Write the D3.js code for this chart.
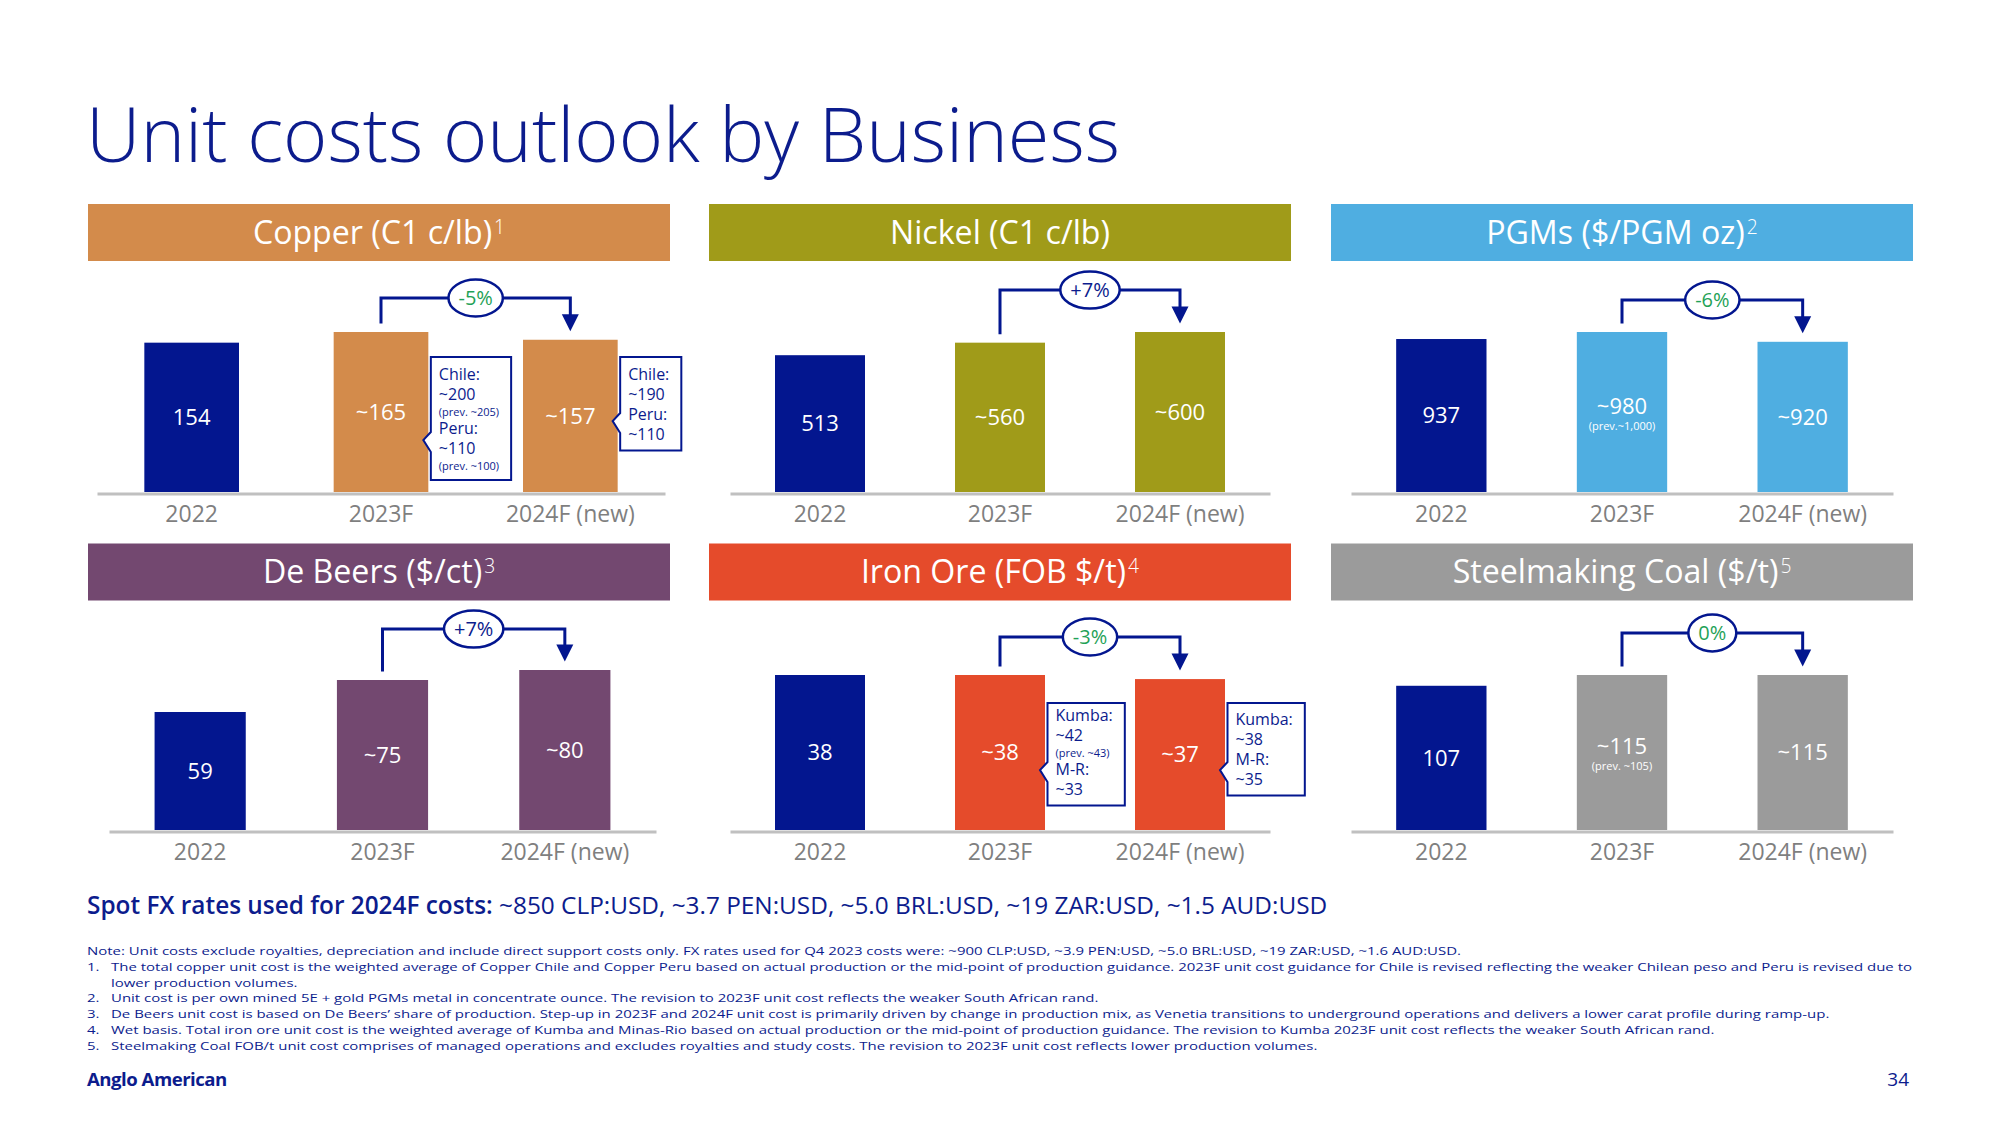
<!DOCTYPE html>
<html><head><meta charset="utf-8">
<script src="https://cdn.jsdelivr.net/npm/d3@7"></script>
<style>
body{margin:0;background:#fff;}
svg{display:block;}
text{font-family:'Open Sans', Lato, sans-serif;}
</style>
</head><body>
<svg id="chart" width="2000" height="1125"></svg>
<script>
// ---------------- DATA ----------------
const titleText = "Unit costs outlook by Business";
const categories = ["2022", "2023F", "2024F (new)"];
const panelTitles = ["Copper (C1 c/lb)", "Nickel (C1 c/lb)", "PGMs ($/PGM oz)", "De Beers ($/ct)", "Iron Ore (FOB $/t)", "Steelmaking Coal ($/t)"];
const panelFootnotes = ["1", "", "2", "3", "4", "5"];

const copperValues = [154, 165, 157];
const nickelValues = [513, 560, 600];
const pgmValues = [937, 980, 920];
const deBeersValues = [59, 75, 80];
const ironOreValues = [38, 38, 37];
const coalValues = [107, 115, 115];

const copperLabels = ["154", "~165", "~157"];
const nickelLabels = ["513", "~560", "~600"];
const pgmLabels = ["937", "~980", "~920"];
const deBeersLabels = ["59", "~75", "~80"];
const ironOreLabels = ["38", "~38", "~37"];
const coalLabels = ["107", "~115", "~115"];

const pgmPrevLabels = ["", "(prev.~1,000)", ""];
const coalPrevLabels = ["", "(prev. ~105)", ""];

const changeLabels = ["-5%", "+7%", "-6%", "+7%", "-3%", "0%"];

const copperCallout2023 = ["Chile:", "~200", "(prev. ~205)", "Peru:", "~110", "(prev. ~100)"];
const copperCallout2024 = ["Chile:", "~190", "Peru:", "~110"];
const ironCallout2023 = ["Kumba:", "~42", "(prev. ~43)", "M-R:", "~33"];
const ironCallout2024 = ["Kumba:", "~38", "M-R:", "~35"];

const fxBold = "Spot FX rates used for 2024F costs:";
const fxRest = " ~850 CLP:USD, ~3.7 PEN:USD, ~5.0 BRL:USD, ~19 ZAR:USD, ~1.5 AUD:USD";

const noteLead = "Note: Unit costs exclude royalties, depreciation and include direct support costs only. FX rates used for Q4 2023 costs were: ~900 CLP:USD, ~3.9 PEN:USD, ~5.0 BRL:USD, ~19 ZAR:USD, ~1.6 AUD:USD.";
const noteNumbers = ["1.", "", "2.", "3.", "4.", "5."];
const noteLines = [
  "The total copper unit cost is the weighted average of Copper Chile and Copper Peru based on actual production or the mid-point of production guidance. 2023F unit cost guidance for Chile is revised reflecting the weaker Chilean peso and Peru is revised due to",
  "lower production volumes.",
  "Unit cost is per own mined 5E + gold PGMs metal in concentrate ounce. The revision to 2023F unit cost reflects the weaker South African rand.",
  "De Beers unit cost is based on De Beers\u2019 share of production. Step-up in 2023F and 2024F unit cost is primarily driven by change in production mix, as Venetia transitions to underground operations and delivers a lower carat profile during ramp-up.",
  "Wet basis. Total iron ore unit cost is the weighted average of Kumba and Minas-Rio based on actual production or the mid-point of production guidance. The revision to Kumba 2023F unit cost reflects the weaker South African rand.",
  "Steelmaking Coal FOB/t unit cost comprises of managed operations and excludes royalties and study costs. The revision to 2023F unit cost reflects lower production volumes."
];
const brandText = "Anglo American";
const pageNumber = "34";

// ---------------- STYLE / LAYOUT ----------------
const NAVY = "#03168f";
const TEXT_NAVY = "#0c1c8d";
const GREEN = "#1fa257";
const AXIS_GRAY = "#c0c0c0";
const LABEL_GRAY = "#7f7f7f";

const panelValues = [copperValues, nickelValues, pgmValues, deBeersValues, ironOreValues, coalValues];
const panelLabels = [copperLabels, nickelLabels, pgmLabels, deBeersLabels, ironOreLabels, coalLabels];
const panelPrev = [null, null, pgmPrevLabels, null, null, coalPrevLabels];

const colLeft = [88, 709, 1331];
const headerW = 582;
const headerH = 57;
const headerTop = [204, 543.5];
const rowBase = [492, 830];

const panelLayout = [
  {col: 0, row: 0, color: "#d38b4b", axis: [9, 577], maxH: 160, rise: 34},
  {col: 1, row: 0, color: "#a09b19", axis: [21, 561], maxH: 160, rise: 42},
  {col: 2, row: 0, color: "#4faee1", axis: [20, 562], maxH: 160, rise: 32},
  {col: 0, row: 1, color: "#734870", axis: [21, 568], maxH: 160, rise: 41},
  {col: 1, row: 1, color: "#e54b2b", axis: [21, 561], maxH: 155, rise: 38},
  {col: 2, row: 1, color: "#9b9b9b", axis: [20, 562], maxH: 155, rise: 42}
];

const calloutLayout = [
  {panel: 0, bar: 1, lines: copperCallout2023, top: 135, tip: 52, first: 23},
  {panel: 0, bar: 2, lines: copperCallout2024, top: 135, tip: 71, first: 23},
  {panel: 4, bar: 1, lines: ironCallout2023, top: 127, tip: 60, first: 18},
  {panel: 4, bar: 2, lines: ironCallout2024, top: 127, tip: 60, first: 22}
];

const svg = d3.select("#chart");
svg.append("rect").attr("width", 2000).attr("height", 1125).attr("fill", "#ffffff");

function fitWidth(sel, target) {
  const w = sel.node().getComputedTextLength();
  const fs = parseFloat(sel.attr("font-size"));
  const nfs = fs * target / w;
  sel.attr("font-size", nfs);
  return nfs;
}

// ---------------- TITLE ----------------
const title = svg.append("text")
  .attr("x", 86).attr("y", 161.5)
  .attr("font-size", 72).attr("font-weight", 300)
  .attr("fill", TEXT_NAVY).text(titleText);
fitWidth(title, 1034);

// header font size from reference width of the Nickel header
const probe = svg.append("text").attr("font-size", 28).attr("font-weight", 500).text(panelTitles[1]);
const headerFS = fitWidth(probe, 220);
probe.remove();

const scales = [];

panelLayout.forEach((L, i) => {
  const hl = colLeft[L.col];
  const base = rowBase[L.row];
  const values = panelValues[i];
  const g = svg.append("g");

  // header
  const ht = headerTop[L.row];
  g.append("rect").attr("x", hl).attr("y", ht).attr("width", headerW).attr("height", headerH).attr("fill", L.color);
  const hBase = ht + headerH / 2 + headerFS * 0.714 / 2;
  const mainT = g.append("text").attr("y", hBase).attr("font-size", headerFS).attr("font-weight", 500)
    .attr("fill", "#ffffff").text(panelTitles[i]);
  const mw = mainT.node().getComputedTextLength();
  let sw = 0, supT = null;
  if (panelFootnotes[i]) {
    supT = g.append("text").attr("y", hBase - 10).attr("font-size", headerFS * 0.6).attr("font-weight", 300)
      .attr("fill", "#ffffff").text(panelFootnotes[i]);
    sw = supT.node().getComputedTextLength() + 2;
  }
  const startX = hl + headerW / 2 - (mw + sw) / 2;
  mainT.attr("x", startX);
  if (supT) supT.attr("x", startX + mw + 2);

  // scales
  const x = d3.scaleBand().domain(categories).range([hl + L.axis[0], hl + L.axis[1]])
    .paddingInner(0.5).paddingOuter(0.25);
  const y = d3.scaleLinear().domain([0, d3.max(values)]).range([base, base - L.maxH]);
  scales.push({x, y, base});

  // bars
  g.selectAll("rect.bar").data(values).join("rect").attr("class", "bar")
    .attr("x", (d, j) => x(categories[j]))
    .attr("y", d => y(d))
    .attr("width", x.bandwidth())
    .attr("height", d => base - y(d))
    .attr("fill", (d, j) => j === 0 ? NAVY : L.color);

  // axis
  const axisG = g.append("g").attr("transform", `translate(0,${base + 1.5})`)
    .call(d3.axisBottom(x).tickSize(0).tickSizeOuter(0).tickPadding(12.5));
  axisG.select(".domain").attr("stroke", AXIS_GRAY).attr("stroke-width", 3);
  axisG.selectAll(".tick line").remove();
  axisG.selectAll(".tick text").attr("font-size", 23).attr("fill", LABEL_GRAY)
    .attr("font-family", "'Open Sans', Lato, sans-serif");

  // value labels
  const prev = panelPrev[i];
  values.forEach((v, j) => {
    const cx = x(categories[j]) + x.bandwidth() / 2;
    const mid = (y(v) + base) / 2;
    const hasPrev = prev && prev[j];
    g.append("text").attr("x", cx).attr("y", hasPrev ? mid - 6 : mid)
      .attr("dy", "0.35em").attr("text-anchor", "middle")
      .attr("font-size", 22).attr("fill", "#ffffff").text(panelLabels[i][j]);
    if (hasPrev) {
      g.append("text").attr("x", cx).attr("y", mid + 14)
        .attr("dy", "0.35em").attr("text-anchor", "middle")
        .attr("font-size", 11).attr("fill", "#ffffff").text(prev[j]);
    }
  });

  // change bracket
  const x1 = x(categories[1]) + x.bandwidth() / 2;
  const x2 = x(categories[2]) + x.bandwidth() / 2;
  const top1 = y(values[1]), top2 = y(values[2]);
  const yh = Math.min(top1, top2) - L.rise;
  const tipY = top2 - 8.5;
  g.append("path")
    .attr("d", `M${x1},${top1 - 8.5}V${yh}H${x2}V${tipY - 16}`)
    .attr("fill", "none").attr("stroke", NAVY).attr("stroke-width", 3);
  g.append("path")
    .attr("d", `M${x2 - 8.5},${tipY - 17}L${x2 + 8.5},${tipY - 17}L${x2},${tipY}Z`)
    .attr("fill", NAVY);
  const mx = (x1 + x2) / 2;
  const el = g.append("ellipse").attr("cx", mx).attr("cy", yh).attr("ry", 18.5)
    .attr("fill", "#ffffff").attr("stroke", NAVY).attr("stroke-width", 2.5);
  const lbl = changeLabels[i];
  const ct = g.append("text").attr("x", mx).attr("y", yh).attr("dy", "0.36em")
    .attr("text-anchor", "middle").attr("font-size", 20)
    .attr("fill", lbl.startsWith("+") ? TEXT_NAVY : GREEN).text(lbl);
  el.attr("rx", ct.node().getComputedTextLength() / 2 + 10);
});

// ---------------- CALLOUTS ----------------
calloutLayout.forEach(c => {
  const {x, base} = scales[c.panel];
  const barRight = x(categories[c.bar]) + x.bandwidth();
  const left = barRight + 2.5;
  const top = base - c.top;
  const tipY = base - c.tip;
  const tipX = barRight - 5;
  const g = svg.append("g");
  const box = g.append("path");
  let yy = top + c.first;
  let prevSmall = false;
  let maxW = 0;
  c.lines.forEach((t, k) => {
    const small = t.startsWith("(");
    if (k > 0) yy += small ? 15.5 : (prevSmall ? 18.5 : 20);
    const tx = g.append("text").attr("x", left + 8).attr("y", yy)
      .attr("font-size", small ? 11 : 16).attr("fill", TEXT_NAVY).text(t);
    maxW = Math.max(maxW, tx.node().getComputedTextLength());
    prevSmall = small;
  });
  const bottom = yy + 10.5;
  const right = left + maxW + 20;
  box.attr("d", `M${left},${top}H${right}V${bottom}H${left}V${tipY + 12}L${tipX},${tipY}L${left},${tipY - 8}Z`)
    .attr("fill", "#ffffff").attr("stroke", NAVY).attr("stroke-width", 2);
});

// ---------------- FX LINE ----------------
const fx = svg.append("text").attr("x", 87).attr("y", 914).attr("font-size", 22).attr("fill", TEXT_NAVY);
fx.append("tspan").attr("font-weight", 600).text(fxBold);
fx.append("tspan").attr("font-weight", 400).text(fxRest);
fitWidth(fx, 1241);

// ---------------- NOTES ----------------
// glyphs are stretched horizontally so the longest line spans its measured width
const noteFS = 11.5;
const probeN = svg.append("text").attr("font-size", noteFS).text(noteLines[0]);
const noteStretch = 1801 / probeN.node().getComputedTextLength();
probeN.remove();
const noteTop = 955;
const noteStep = 15.75;
function noteText(xx, yy, t) {
  const tx = svg.append("text").attr("x", xx).attr("y", yy).attr("font-size", noteFS)
    .attr("fill", TEXT_NAVY).text(t);
  const w = tx.node().getComputedTextLength();
  tx.attr("textLength", w * noteStretch).attr("lengthAdjust", "spacingAndGlyphs");
}
noteText(87, noteTop, noteLead);
noteLines.forEach((t, k) => {
  const yy = noteTop + (k + 1) * noteStep;
  if (noteNumbers[k]) noteText(87, yy, noteNumbers[k]);
  noteText(111, yy, t);
});

// ---------------- FOOTER ----------------
const brand = svg.append("text").attr("x", 87).attr("y", 1086).attr("font-size", 19).attr("font-weight", 700)
  .attr("letter-spacing", -0.5).attr("fill", TEXT_NAVY).text(brandText);
fitWidth(brand, 140);
svg.append("text").attr("x", 1909).attr("y", 1086).attr("text-anchor", "end").attr("font-size", 19)
  .attr("fill", TEXT_NAVY).text(pageNumber);
</script>
</body></html>
